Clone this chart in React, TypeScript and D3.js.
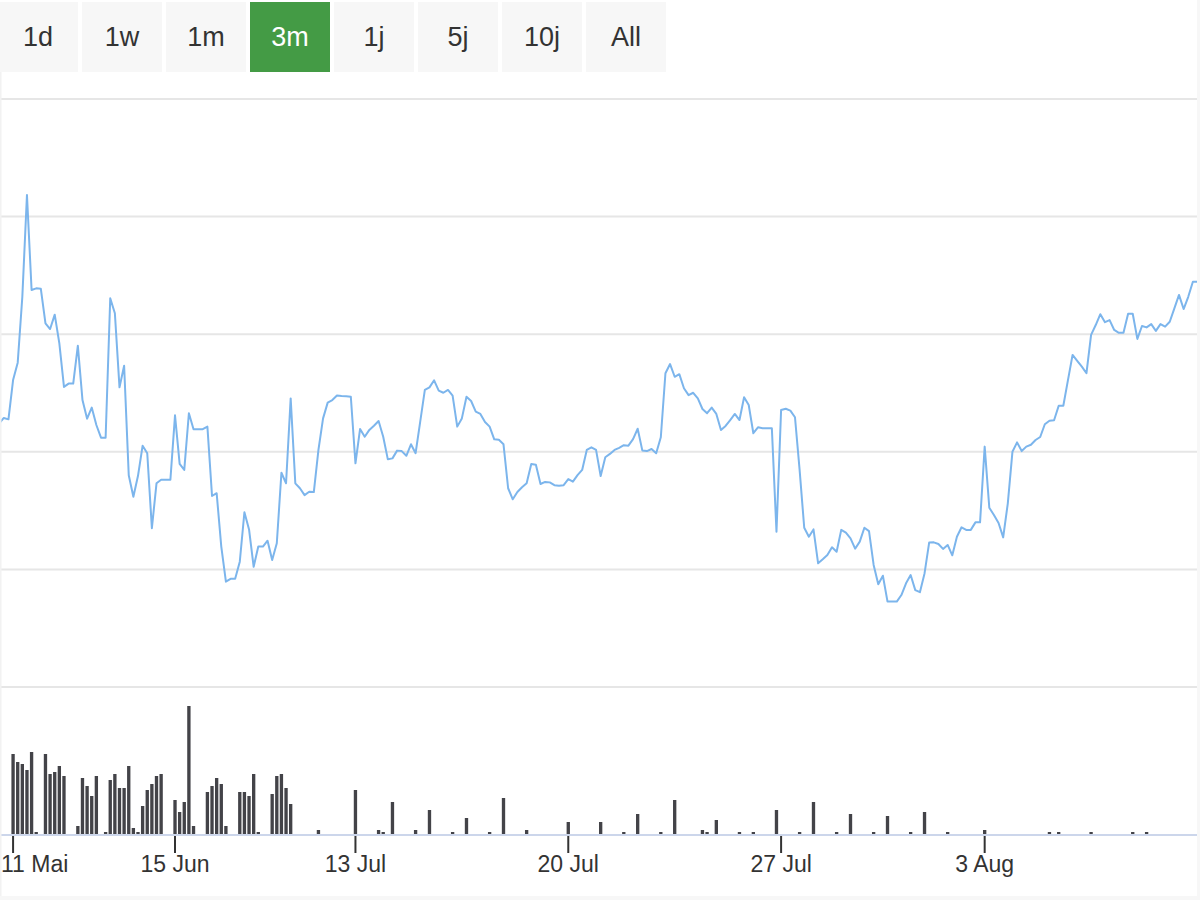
import React, { useEffect, useRef } from "react";
import * as d3 from "d3";

// ---------- data ----------
const rangeButtons = ["1d", "1w", "1m", "3m", "1j", "5j", "10j", "All"];
const selectedRange = "3m";

const tickLabels = ["11 Mai", "15 Jun", "13 Jul", "20 Jul", "27 Jul", "3 Aug"];
const tickIndex = [3, 38, 77, 123, 169, 213];

const priceGrid = [20, 25, 30, 35, 40, 45];

const price = [
  31.21, 31.44, 31.38, 33.05, 33.79, 36.59, 40.92, 36.88, 36.95, 36.93,
  35.46, 35.22, 35.83, 34.61, 32.76, 32.9, 32.9, 34.51, 32.2, 31.41,
  31.88, 31.14, 30.6, 30.6, 36.53, 35.89, 32.74, 33.66, 29.0, 28.09,
  28.98, 30.26, 29.94, 26.75, 28.66, 28.81, 28.81, 28.81, 31.55, 29.49,
  29.23, 31.64, 30.96, 30.96, 30.96, 31.07, 28.12, 28.24, 25.97, 24.48,
  24.6, 24.6, 25.33, 27.43, 26.7, 25.11, 25.97, 25.97, 26.22, 25.4,
  26.11, 29.11, 28.66, 32.27, 28.66, 28.45, 28.16, 28.3, 28.29, 30.08,
  31.42, 32.09, 32.2, 32.39, 32.37, 32.36, 32.34, 29.51, 30.97, 30.64,
  30.93, 31.11, 31.31, 30.64, 29.68, 29.72, 30.05, 30.03, 29.83, 30.32,
  29.94, 31.28, 32.63, 32.74, 33.04, 32.6, 32.51, 32.63, 32.39, 31.07,
  31.42, 32.34, 32.16, 31.71, 31.61, 31.27, 31.07, 30.53, 30.51, 30.32,
  28.45, 27.98, 28.29, 28.49, 28.66, 29.48, 29.45, 28.63, 28.72, 28.7,
  28.58, 28.56, 28.58, 28.84, 28.73, 29.01, 29.23, 30.08, 30.19, 30.08,
  28.97, 29.77, 29.91, 30.08, 30.17, 30.28, 30.26, 30.54, 30.98, 30.06,
  30.03, 30.12, 29.94, 30.62, 33.34, 33.73, 33.19, 33.3, 32.7, 32.41,
  32.51, 32.27, 31.82, 31.64, 31.88, 31.61, 30.93, 31.1, 31.35, 31.61,
  31.35, 32.32, 31.99, 30.79, 31.04, 31.0, 31.0, 31.0, 26.6, 31.78,
  31.83, 31.75, 31.47, 29.23, 26.77, 26.39, 26.7, 25.26, 25.43, 25.61,
  25.94, 25.75, 26.68, 26.56, 26.32, 25.88, 26.18, 26.77, 26.63, 25.19,
  24.37, 24.73, 23.63, 23.63, 23.63, 23.91, 24.41, 24.76, 24.12, 24.03,
  24.83, 26.14, 26.15, 26.08, 25.87, 26.04, 25.6, 26.39, 26.79, 26.68,
  26.68, 27.0, 27.0, 30.22, 27.62, 27.31, 26.97, 26.36, 27.81, 30.0,
  30.4, 30.03, 30.22, 30.3, 30.5, 30.63, 31.17, 31.32, 31.34, 31.96,
  31.96, 33.05, 34.12, 33.87, 33.62, 33.34, 34.97, 35.39, 35.85, 35.51,
  35.6, 35.18, 35.06, 35.06, 35.87, 35.87, 34.8, 35.35, 35.29, 35.43,
  35.14, 35.43, 35.32, 35.53, 36.1, 36.67, 36.07, 36.59, 37.23, 37.23,
];

// volume: slot (point index) and traded volume (thousands)
const volumeIndex = [
  0, 3, 4, 5, 6, 7, 8, 10, 11, 12, 13, 14, 17, 18, 19, 20, 21,
  23, 24, 25, 26, 27, 28, 29, 30, 31, 32, 33, 34, 35,
  38, 39, 40, 41, 42, 45, 46, 47, 48, 49, 52, 53, 54, 55, 56,
  59, 60, 61, 62, 63, 69, 77, 82, 83, 85, 90, 93, 98, 101, 106,
  109, 114, 123, 130, 135, 138, 143, 146, 152, 153, 155, 160, 163,
  168, 173, 176, 181, 184, 189, 192, 197, 200, 205, 213, 227, 229,
  236, 245, 248,
];
const volumeValue = [
  72, 80, 72, 70, 64, 82, 2, 80, 60, 62, 68, 58, 8, 56, 48, 38, 58,
  2, 54, 60, 46, 46, 68, 6, 2, 28, 44, 50, 58, 60,
  34, 22, 32, 128, 8, 42, 48, 56, 50, 8, 42, 42, 38, 60, 2,
  40, 58, 60, 46, 30, 4, 44, 4, 2, 32, 4, 24, 2, 16, 2,
  36, 4, 12, 12, 2, 20, 2, 34, 4, 2, 14, 2, 2,
  24, 2, 32, 2, 20, 2, 18, 2, 22, 2, 4, 2, 2,
  2, 2, 2,
];

export default function App() {
  const ref = useRef<SVGSVGElement>(null);

  useEffect(() => {
    document.body.style.margin = "0";
    const svg = d3.select(ref.current);
    svg.selectAll("*").remove();

    const W = 1200;
    const H = 900;
    const plotLeft = 0;
    const plotRight = 1197;
    const font = "'Liberation Sans', Arial, sans-serif";

    const x = d3
      .scaleLinear()
      .domain([0, price.length - 1])
      .range([-0.8, 1197.5]);
    const y = d3.scaleLinear().domain([20, 45]).range([687, 99]);
    const yv = d3.scaleLinear().domain([0, 147]).range([834, 687]);
    const step = x(1) - x(0);

    svg.append("rect").attr("width", W).attr("height", H).attr("fill", "#ffffff");

    const defs = svg.append("defs");
    defs
      .append("clipPath")
      .attr("id", "plotClip")
      .append("rect")
      .attr("x", plotLeft)
      .attr("y", 80)
      .attr("width", plotRight - plotLeft)
      .attr("height", 760);

    // grid lines
    svg
      .append("g")
      .selectAll("line")
      .data(priceGrid)
      .join("line")
      .attr("x1", plotLeft)
      .attr("x2", plotRight)
      .attr("y1", (d) => y(d))
      .attr("y2", (d) => y(d))
      .attr("stroke", "#e6e6e6")
      .attr("stroke-width", 2);

    // price line
    const line = d3
      .line<number>()
      .x((_, i) => x(i))
      .y((d) => y(d));
    svg
      .append("path")
      .attr("clip-path", "url(#plotClip)")
      .attr("d", line(price))
      .attr("fill", "none")
      .attr("stroke", "#7cb5ec")
      .attr("stroke-width", 2)
      .attr("stroke-linejoin", "round")
      .attr("stroke-linecap", "round");

    // volume bars
    const bw = step * 0.72;
    svg
      .append("g")
      .attr("clip-path", "url(#plotClip)")
      .selectAll("rect")
      .data(volumeIndex.map((idx, k) => ({ idx, v: volumeValue[k] })))
      .join("rect")
      .attr("x", (d) => x(d.idx) - bw / 2)
      .attr("y", (d) => yv(d.v))
      .attr("width", bw)
      .attr("height", (d) => yv(0) - yv(d.v))
      .attr("fill", "#434348");

    // x axis line
    svg
      .append("line")
      .attr("x1", plotLeft)
      .attr("x2", plotRight)
      .attr("y1", 835)
      .attr("y2", 835)
      .attr("stroke", "#ccd6eb")
      .attr("stroke-width", 2);

    // ticks and labels
    const tg = svg.append("g");
    tickIndex.forEach((ti, k) => {
      const tx = x(ti);
      tg.append("line")
        .attr("x1", tx)
        .attr("x2", tx)
        .attr("y1", 836)
        .attr("y2", 853)
        .attr("stroke", "#333333")
        .attr("stroke-width", 2);
      const t = tg
        .append("text")
        .attr("x", tx)
        .attr("y", 872)
        .attr("text-anchor", "middle")
        .attr("font-family", font)
        .attr("font-size", 23)
        .attr("fill", "#333333")
        .text(tickLabels[k]);
      const node = t.node() as SVGTextElement;
      const w = node.getComputedTextLength();
      if (tx - w / 2 < 1) t.attr("x", 1 + w / 2);
      if (tx + w / 2 > plotRight) t.attr("x", plotRight - w / 2);
    });

    // range selector buttons
    const bx = d3
      .scaleBand()
      .domain(rangeButtons)
      .range([-2, -2 + 84 * rangeButtons.length - 4])
      .paddingInner(4 / 84)
      .paddingOuter(0);
    const bg = svg.append("g");
    rangeButtons.forEach((b) => {
      const active = b === selectedRange;
      bg.append("rect")
        .attr("x", bx(b)!)
        .attr("y", 2)
        .attr("width", bx.bandwidth())
        .attr("height", 70)
        .attr("fill", active ? "#449b45" : "#f7f7f7");
      bg.append("text")
        .attr("x", bx(b)! + bx.bandwidth() / 2)
        .attr("y", 46)
        .attr("text-anchor", "middle")
        .attr("font-family", font)
        .attr("font-size", 27)
        .attr("fill", active ? "#ffffff" : "#333333")
        .text(b);
    });

    // faint container frame
    svg
      .append("rect")
      .attr("x", 0)
      .attr("y", 72)
      .attr("width", 1.5)
      .attr("height", H - 72)
      .attr("fill", "#f2f2f2");
    svg
      .append("rect")
      .attr("x", 1197)
      .attr("y", 0)
      .attr("width", 3)
      .attr("height", H)
      .attr("fill", "#f7f7f7");
    svg
      .append("rect")
      .attr("x", 0)
      .attr("y", 896)
      .attr("width", W)
      .attr("height", 4)
      .attr("fill", "#f7f7f7");
  }, []);

  return (
    <svg
      ref={ref}
      width={1200}
      height={900}
      style={{ display: "block", position: "absolute", left: 0, top: 0 }}
    />
  );
}
